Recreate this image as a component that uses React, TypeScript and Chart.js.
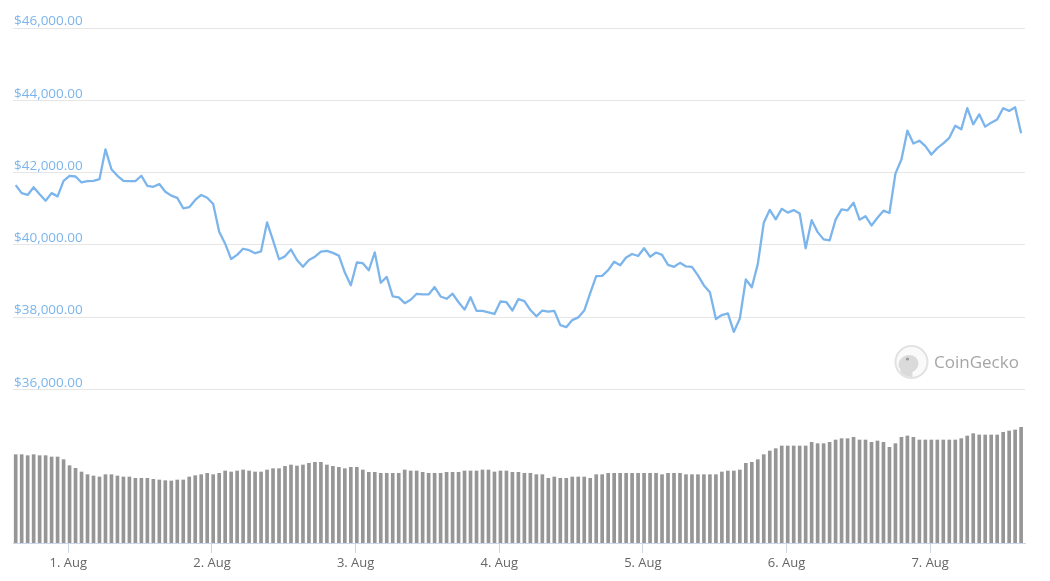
import { useEffect, useRef } from "react";
import { Chart, registerables } from "chart.js";

Chart.register(...registerables);

// Day labels of the x axis
const tickLabels = ["1. Aug", "2. Aug", "3. Aug", "4. Aug", "5. Aug", "6. Aug", "7. Aug"];
// hourly samples; the first one is ~8.8 h before 1 Aug 00:00
const hoursBeforeFirstDay = 8.8;
const hoursPerDay = 24;

// Price axis tick values (USD)
const priceTicks = [36000, 38000, 40000, 42000, 44000, 46000];

// BTC price, USD, hourly
const prices = [
  41650, 41430, 41380, 41590, 41400, 41220, 41430, 41340, 41770, 41910,
  41890, 41725, 41760, 41770, 41815, 42640, 42090, 41910, 41770, 41760,
  41760, 41910, 41630, 41605, 41680, 41470, 41360, 41300, 41010, 41040,
  41240, 41380, 41300, 41130, 40360, 40030, 39605, 39720, 39890, 39850,
  39765, 39820, 40620, 40120, 39600, 39680, 39870, 39580, 39390, 39580,
  39670, 39810, 39830, 39775, 39700, 39230, 38880, 39510, 39490, 39295,
  39790, 38950, 39110, 38570, 38545, 38385, 38480, 38644, 38625, 38625,
  38830, 38570, 38505, 38645, 38410, 38205, 38550, 38170, 38170, 38130,
  38085, 38430, 38410, 38180, 38495, 38440, 38195, 38020, 38180, 38150,
  38170, 37775, 37720, 37915, 37990, 38180, 38665, 39130, 39140, 39300,
  39530, 39435, 39650, 39745, 39690, 39905, 39670, 39785, 39720, 39445,
  39390, 39500, 39400, 39390, 39155, 38875, 38685, 37945, 38055, 38100,
  37590, 37960, 39040, 38825, 39465, 40610, 40967, 40705, 40995, 40890,
  40960, 40865, 39905, 40680, 40350, 40150, 40120, 40695, 40980, 40955,
  41165, 40695, 40790, 40535, 40750, 40945, 40880, 41970, 42360, 43157,
  42805, 42880, 42730, 42500, 42675, 42805, 42960, 43295, 43195, 43780,
  43335, 43610, 43270, 43380, 43470, 43780, 43705, 43805, 43085,
];

// 24h volume, billion USD, hourly
const volumes = [
  26.5, 26.5, 26.2, 26.5, 26.2, 26.2, 25.8, 25.8, 25.0, 23.2,
  22.4, 21.3, 20.5, 20.1, 19.8, 20.5, 20.5, 20.1, 19.8, 19.8,
  19.4, 19.4, 19.4, 19.1, 18.9, 18.7, 18.6, 18.9, 18.9, 19.8,
  20.2, 20.5, 20.9, 20.5, 20.9, 21.6, 21.3, 21.6, 21.9, 21.6,
  21.3, 21.3, 21.9, 22.3, 22.3, 23.0, 23.4, 23.1, 23.4, 23.9,
  24.2, 24.2, 23.4, 23.0, 22.7, 22.3, 22.7, 22.7, 21.9, 21.2,
  21.2, 20.9, 20.9, 20.9, 20.9, 21.9, 21.6, 21.6, 21.2, 20.9,
  20.9, 20.9, 21.2, 21.2, 21.2, 21.6, 21.6, 21.6, 21.9, 21.9,
  21.3, 21.6, 21.6, 21.2, 21.2, 20.9, 20.9, 20.5, 20.5, 19.4,
  19.8, 19.4, 19.4, 19.8, 19.8, 19.8, 19.4, 20.5, 20.5, 20.9,
  20.9, 20.9, 20.9, 20.9, 20.9, 20.9, 20.9, 20.9, 20.5, 20.9,
  20.9, 20.9, 20.5, 20.5, 20.5, 20.5, 20.5, 20.5, 21.3, 21.6,
  21.6, 21.9, 23.9, 24.2, 25.0, 26.5, 27.6, 28.3, 29.1, 29.1,
  29.1, 29.1, 29.1, 30.2, 29.8, 29.8, 30.2, 30.9, 31.3, 31.3,
  31.7, 30.9, 30.9, 30.2, 30.6, 30.2, 28.7, 29.8, 31.7, 32.1,
  31.7, 30.9, 30.9, 30.9, 30.9, 30.9, 30.9, 30.9, 31.3, 32.1,
  32.8, 32.4, 32.4, 32.4, 32.4, 33.2, 33.6, 33.9, 34.7,
];

const priceMax = 46000;
const priceMin = 31746;
const volumeMax = 154.5;

const formatUsd = (v: number) =>
  "$" + Number(v).toFixed(2).replace(/\B(?=(\d{3})+(?!\d))/g, ",");

const watermark = {
  id: "watermark",
  beforeDatasetsDraw(chart: any) {
    const ctx = chart.ctx as CanvasRenderingContext2D;
    const cx = 911.5;
    const cy = 362;
    ctx.save();
    ctx.beginPath();
    ctx.arc(cx, cy, 16, 0, Math.PI * 2);
    ctx.fillStyle = "#fafafa";
    ctx.fill();
    ctx.lineWidth = 2;
    ctx.strokeStyle = "#e2e2e2";
    ctx.stroke();
    ctx.save();
    ctx.beginPath();
    ctx.arc(cx, cy, 15, 0, Math.PI * 2);
    ctx.clip();
    ctx.beginPath();
    ctx.ellipse(cx - 3, cy + 2, 10, 9, -0.3, 0, Math.PI * 2);
    ctx.rect(cx - 11, cy + 2, 12, 16);
    ctx.fillStyle = "#dadada";
    ctx.fill();
    ctx.restore();
    ctx.beginPath();
    ctx.arc(cx - 4, cy - 3, 1.6, 0, Math.PI * 2);
    ctx.fillStyle = "#9a9a9a";
    ctx.fill();
    ctx.font = "17px 'Open Sans', sans-serif";
    ctx.fillStyle = "#a6a6a6";
    ctx.textAlign = "left";
    ctx.textBaseline = "alphabetic";
    ctx.fillText("CoinGecko", 934, 368);
    ctx.restore();
  },
};

export default function App() {
  const ref = useRef<HTMLCanvasElement>(null);

  useEffect(() => {
    const canvas = ref.current;
    if (!canvas) return;
    const chart = new Chart(canvas, {
      type: "bar",
      data: {
        datasets: [
          {
            type: "line",
            label: "Price",
            data: prices.map((p, i) => ({ x: i, y: p })),
            yAxisID: "y",
            borderColor: "#7cb5ec",
            borderWidth: 2.3,
            pointRadius: 0,
            fill: false,
            tension: 0,
            borderJoinStyle: "round",
            order: 1,
          } as any,
          {
            type: "bar",
            label: "Volume",
            data: volumes.map((v, i) => ({ x: i, y: v })),
            yAxisID: "yv",
            backgroundColor: "#969696",
            barThickness: 3,
            order: 2,
          } as any,
        ],
      },
      options: {
        animation: false,
        responsive: true,
        maintainAspectRatio: false,
        layout: { padding: { top: 28, left: 13, right: 25, bottom: 0 } },
        plugins: {
          legend: { display: false },
          tooltip: { enabled: false },
        },
        scales: {
          x: {
            type: "linear",
            position: "bottom",
            offset: false,
            min: -0.45,
            max: 168.65,
            afterBuildTicks: (scale: any) => {
              scale.ticks = tickLabels.map((_, k) => ({
                value: hoursBeforeFirstDay + hoursPerDay * k,
              }));
            },
            afterFit: (scale: any) => {
              scale.height = 38;
            },
            ticks: {
              autoSkip: false,
              maxRotation: 0,
              padding: 2,
              color: "#666666",
              font: { family: "'Open Sans', sans-serif", size: 13 },
              callback: (_v: any, index: number) => tickLabels[index],
            },
            grid: {
              offset: false,
              drawOnChartArea: false,
              drawTicks: true,
              tickLength: 10,
              color: "#ccd6eb",
            },
            border: { display: true, color: "#ccd6eb" },
          },
          y: {
            type: "linear",
            position: "left",
            min: priceMin,
            max: priceMax,
            afterBuildTicks: (scale: any) => {
              scale.ticks = priceTicks.map((v) => ({ value: v }));
            },
            afterFit: (scale: any) => {
              scale.width = 0;
            },
            ticks: {
              mirror: true,
              padding: 1,
              labelOffset: -6.5,
              color: "#7cb5ec",
              font: { family: "'Open Sans', sans-serif", size: 13.5 },
              callback: (v: any) => formatUsd(v),
            },
            grid: { color: "#e6e6e6", drawTicks: false },
            border: { display: false },
          },
          yv: {
            type: "linear",
            display: false,
            min: 0,
            max: volumeMax,
          },
        },
      } as any,
      plugins: [watermark],
    });
    return () => chart.destroy();
  }, []);

  return (
    <div
      style={{
        position: "fixed",
        left: 0,
        top: 0,
        width: 1050,
        height: 581,
        background: "#ffffff",
      }}
    >
      <canvas ref={ref} />
    </div>
  );
}
